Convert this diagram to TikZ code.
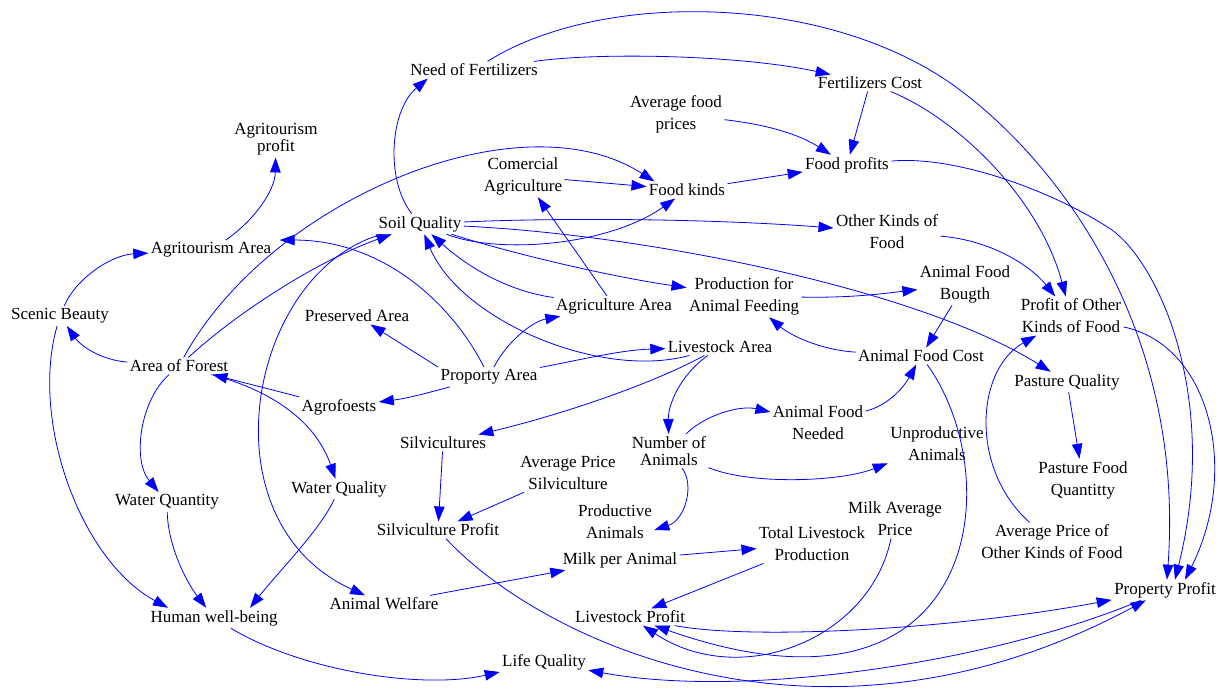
\documentclass[tikz,border=0pt]{standalone}
\usepackage{fontspec}
\setmainfont{Liberation Serif}
\usetikzlibrary{arrows.meta}
\begin{document}
\begin{tikzpicture}[x=1pt,y=-1pt,
  v/.style={font=\fontsize{17}{22}\selectfont, align=center, inner sep=1.5pt, outer sep=1pt, text=black},
  tight/.style={font=\fontsize{17}{17}\selectfont},
  lnk/.style={draw=blue, line width=0.8pt, -{Triangle[length=15pt,width=10.5pt]}},
]
\useasboundingbox (0,0) rectangle (1219,694);
% nodes
\node[v] (nf) at (474,70) {Need of Fertilizers};
\node[v] (fc) at (870,83) {Fertilizers Cost};
\node[v] (afp) at (676,114) {Average food\\prices};
\node[v,tight] (atp) at (276,139) {Agritourism\\profit};
\node[v] (ca) at (523,176) {Comercial\\Agriculture};
\node[v] (fk) at (687,190) {Food kinds};
\node[v] (fp) at (847,165) {Food profits};
\node[v] (sq) at (420,224) {Soil Quality};
\node[v] (okf) at (887,232) {Other Kinds of\\Food};
\node[v] (ata) at (211,250) {Agritourism Area};
\node[v] (afb) at (965,284) {Animal Food\\Bougth};
\node[v] (paf) at (744,296) {Production for\\Animal Feeding};
\node[v] (pok) at (1071,316) {Profit of Other\\Kinds of Food};
\node[v] (aa) at (614,306) {Agriculture Area};
\node[v] (sb) at (60,316) {Scenic Beauty};
\node[v] (pa) at (357,316) {Preserved Area};
\node[v] (la) at (720,347) {Livestock Area};
\node[v] (afc) at (921,356) {Animal Food Cost};
\node[v] (aof) at (179,366) {Area of Forest};
\node[v] (pra) at (489,377) {Proporty Area};
\node[v] (pq) at (1067,382) {Pasture Quality};
\node[v] (agf) at (339,407) {Agrofoests};
\node[v] (afn) at (818,423) {Animal Food\\Needed};
\node[v] (ua) at (937,444) {Unproductive\\Animals};
\node[v] (sv) at (443,443) {Silvicultures};
\node[v,tight] (na) at (669,451) {Number of\\Animals};
\node[v] (pfq) at (1083,480) {Pasture Food\\Quantitty};
\node[v] (aps) at (568,473) {Average Price\\Silviculture};
\node[v] (wqn) at (167,502) {Water Quantity};
\node[v] (wql) at (339,489) {Water Quality};
\node[v] (svp) at (438,530) {Silviculture Profit};
\node[v] (pan) at (615,522) {Productive\\Animals};
\node[v] (map) at (895,519) {Milk Average\\Price};
\node[v] (apo) at (1052,542) {Average Price of\\Other Kinds of Food};
\node[v] (tlp) at (812,544) {Total Livestock\\Production};
\node[v] (mpa) at (620,560) {Milk per Animal};
\node[v] (pp) at (1165,590) {Property Profit};
\node[v] (lp) at (630,617) {Livestock Profit};
\node[v] (hwb) at (214,618) {Human well-being};
\node[v] (aw) at (384,604) {Animal Welfare};
\node[v] (lq) at (544,662) {Life Quality};
% links
\draw[lnk] (nf) .. controls (600,52) and (740,55) .. (fc);
\draw[lnk] (nf) .. controls (600,-10) and (830,-8) .. (960,90) .. controls (1060,165) and (1185,330) .. ([xshift=2pt]pp.north);
\draw[lnk] (fp) .. controls (960,155) and (1060,195) .. (1112,230) .. controls (1160,265) and (1220,400) .. ([xshift=10pt]pp.north);
\draw[lnk] (pok) .. controls (1210,345) and (1240,470) .. ([xshift=20pt]pp.north);
\draw[lnk] (fc) .. controls (960,120) and (1040,200) .. (pok);
\draw[lnk] (afp) .. controls (770,125) and (800,135) .. (fp);
\draw[lnk] (fc) -- (fp);
\draw[lnk] (fk) -- (fp);
\draw[lnk] (ca) -- (fk);
\draw[lnk] (aa) -- (ca);
\draw[lnk] (sq) .. controls (500,255) and (610,245) .. (fk);
\draw[lnk] (aof) .. controls (270,200) and (520,95) .. ([xshift=8pt]fk.north west);
\draw[lnk] (sq) .. controls (385,180) and (390,110) .. ([xshift=20pt]nf.south west);
\draw[lnk] (sq) .. controls (550,218) and (700,218) .. (okf);
\draw[lnk] (sq) .. controls (500,250) and (600,275) .. (paf);
\draw[lnk] (sq) .. controls (650,235) and (920,290) .. (pq);
\draw[lnk] (la) .. controls (600,380) and (460,320) .. (sq);
\draw[lnk] (aa) .. controls (500,290) and (460,260) .. (sq);
\draw[lnk] (pra) .. controls (450,300) and (380,240) .. ([xshift=6pt]ata.north east);
\draw[lnk] (aof) .. controls (240,310) and (320,260) .. (sq);
\draw[lnk] (sq) .. controls (250,270) and (200,520) .. (aw);
\draw[lnk] (aof) .. controls (100,360) and (80,345) .. (sb);
\draw[lnk] (sb) .. controls (75,280) and (110,255) .. (ata);
\draw[lnk] (sb) .. controls (30,420) and (80,560) .. ([xshift=20pt]hwb.north west);
\draw[lnk] (aof) .. controls (140,400) and (132,460) .. (wqn);
\draw[lnk] (wqn) .. controls (168,545) and (185,580) .. (hwb);
\draw[lnk] (wql) .. controls (320,530) and (280,570) .. ([xshift=-30pt]hwb.north east);
\draw[lnk] (aof) .. controls (270,390) and (315,420) .. (wql);
\draw[lnk] (agf) -- (aof);
\draw[lnk] (pra.north west) -- (pa);
\draw[lnk] (pra) .. controls (430,392) and (410,398) .. (agf);
\draw[lnk] (pra) .. controls (505,345) and (530,322) .. (aa);
\draw[lnk] (pra) .. controls (580,360) and (620,350) .. (la);
\draw[lnk] (la) .. controls (680,375) and (668,405) .. (na);
\draw[lnk] (la) .. controls (650,385) and (560,415) .. (sv);
\draw[lnk] (na) .. controls (705,415) and (740,405) .. (afn);
\draw[lnk] (afn) .. controls (890,405) and (905,385) .. (afc);
\draw[lnk] (na) .. controls (750,485) and (840,482) .. (ua);
\draw[lnk] (na) .. controls (695,485) and (685,520) .. ([yshift=-8pt]pan.east);
\draw[lnk] (sv) -- (svp);
\draw[lnk] (aps) -- (svp);
\draw[lnk] (aw) -- (mpa);
\draw[lnk] (mpa) -- (tlp);
\draw[lnk] (tlp) -- (lp);
\draw[lnk] (map) .. controls (870,640) and (740,690) .. (lp);
\draw[lnk] (afc) .. controls (1010,480) and (980,740) .. (lp);
\draw[lnk] (lp) .. controls (750,640) and (950,630) .. (pp);
\draw[lnk] (svp) .. controls (540,640) and (820,775) .. (pp);
\draw[lnk] (hwb) .. controls (300,670) and (420,690) .. (lq);
\draw[lnk] (pp) .. controls (1000,660) and (750,700) .. (lq);
\draw[lnk] (ata) .. controls (255,220) and (275,190) .. (atp);
\draw[lnk] (paf) .. controls (850,298) and (880,294) .. (afb);
\draw[lnk] (afb) -- (afc);
\draw[lnk] (afc) .. controls (820,350) and (790,335) .. (paf);
\draw[lnk] (okf) .. controls (990,240) and (1030,265) .. (pok);
\draw[lnk] (apo) .. controls (970,470) and (975,370) .. (pok);
\draw[lnk] (pq) -- (pfq);
\end{tikzpicture}
\end{document}
